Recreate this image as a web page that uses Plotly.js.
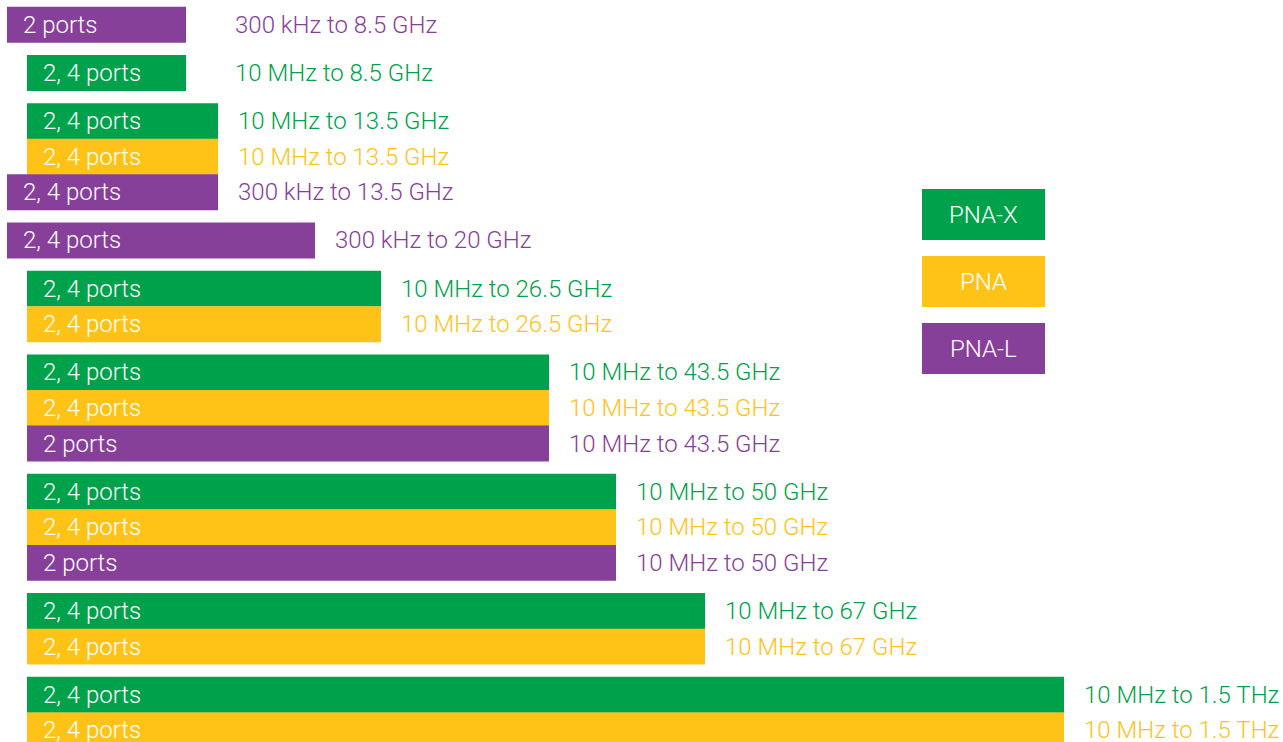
<!DOCTYPE html>
<html>
<head>
<meta charset="utf-8">
<script src="https://cdn.plot.ly/plotly-3.0.1.min.js"></script>
<style>
  html, body { margin: 0; padding: 0; background: #ffffff; }
  #chart { width: 1283px; height: 742px; }
</style>
</head>
<body>
<div id="chart"></div>
<script>
// ---- data (bar lengths are in the chart's own display units) ----
const seriesNames = ['PNA-X', 'PNA', 'PNA-L'];
const rowSeries = ['PNA-L', 'PNA-X', 'PNA-X', 'PNA', 'PNA-L', 'PNA-L', 'PNA-X', 'PNA',
                   'PNA-X', 'PNA', 'PNA-L', 'PNA-X', 'PNA', 'PNA-L', 'PNA-X', 'PNA', 'PNA-X', 'PNA'];
const rowGroup = [0, 1, 2, 2, 2, 3, 4, 4, 5, 5, 5, 6, 6, 6, 7, 7, 8, 8];
const portLabels = ['2 ports', '2, 4 ports', '2, 4 ports', '2, 4 ports', '2, 4 ports', '2, 4 ports',
                    '2, 4 ports', '2, 4 ports', '2, 4 ports', '2, 4 ports', '2 ports', '2, 4 ports',
                    '2, 4 ports', '2 ports', '2, 4 ports', '2, 4 ports', '2, 4 ports', '2, 4 ports'];
const rangeLabels = ['300 kHz to 8.5 GHz', '10 MHz to 8.5 GHz', '10 MHz to 13.5 GHz', '10 MHz to 13.5 GHz',
                     '300 kHz to 13.5 GHz', '300 kHz to 20 GHz', '10 MHz to 26.5 GHz', '10 MHz to 26.5 GHz',
                     '10 MHz to 43.5 GHz', '10 MHz to 43.5 GHz', '10 MHz to 43.5 GHz', '10 MHz to 50 GHz',
                     '10 MHz to 50 GHz', '10 MHz to 50 GHz', '10 MHz to 67 GHz', '10 MHz to 67 GHz',
                     '10 MHz to 1.5 THz', '10 MHz to 1.5 THz'];
const barStart = [7, 27, 27, 27, 7, 7, 27, 27, 27, 27, 27, 27, 27, 27, 27, 27, 27, 27];
const barEnd = [186, 186, 218, 218, 218, 315, 381, 381, 549, 549, 549, 616, 616, 616, 705, 705, 1064, 1064];

// ---- styles ----
const colors = { 'PNA-X': '#00A14B', 'PNA': '#FEC316', 'PNA-L': '#87409A' };
const FONT = 'Roboto, "Noto Sans", sans-serif';
const FS = 24;
const rowH = 35.55, groupGap = 12.65, topPad = 7;
const labelGap = 18, labelMinX = 233, innerPad = 14;

const yCenter = rowSeries.map((_, i) => topPad + rowH / 2 + i * rowH + rowGroup[i] * groupGap);

const traces = seriesNames.map(name => {
  const idx = rowSeries.map((s, i) => s === name ? i : -1).filter(i => i >= 0);
  return {
    type: 'bar', orientation: 'h', name: name, showlegend: false,
    y: idx.map(i => yCenter[i]),
    base: idx.map(i => barStart[i]),
    x: idx.map(i => barEnd[i] - barStart[i]),
    width: rowH + 0.3,
    marker: { color: colors[name], line: { width: 0 } },
    hoverinfo: 'skip'
  };
});

const annotations = [];
rowSeries.forEach((s, i) => {
  annotations.push({
    x: barStart[i] + innerPad, y: yCenter[i], xref: 'x', yref: 'y',
    text: portLabels[i], showarrow: false, xanchor: 'left', yanchor: 'middle',
    font: { family: FONT, size: FS, color: '#ffffff', weight: 300 }
  });
  annotations.push({
    x: Math.max(barEnd[i] + labelGap, labelMinX), y: yCenter[i], xref: 'x', yref: 'y',
    text: rangeLabels[i], showarrow: false, xanchor: 'left', yanchor: 'middle',
    font: { family: FONT, size: FS, color: colors[s], weight: 300 }
  });
});

// legend boxes
const legX0 = 922, legX1 = 1045, legY0 = 189, legBoxH = 51, legStep = 67;
const shapes = [];
seriesNames.forEach((name, k) => {
  const y0 = legY0 + k * legStep;
  shapes.push({ type: 'rect', xref: 'x', yref: 'y', x0: legX0, x1: legX1, y0: y0, y1: y0 + legBoxH,
                fillcolor: colors[name], line: { width: 0 }, layer: 'below' });
  annotations.push({
    x: (legX0 + legX1) / 2, y: y0 + legBoxH / 2, xref: 'x', yref: 'y',
    text: name, showarrow: false, xanchor: 'center', yanchor: 'middle',
    font: { family: FONT, size: 24, color: '#ffffff', weight: 300 }
  });
});

const layout = {
  width: 1283, height: 742,
  margin: { l: 0, r: 0, t: 0, b: 0, pad: 0 },
  paper_bgcolor: '#ffffff', plot_bgcolor: '#ffffff',
  xaxis: { range: [0, 1283], visible: false, fixedrange: true },
  yaxis: { range: [742, 0], visible: false, fixedrange: true },
  barmode: 'overlay',
  showlegend: false,
  shapes: shapes,
  annotations: annotations
};

Plotly.newPlot('chart', traces, layout, { displayModeBar: false, staticPlot: true });
</script>
</body>
</html>
